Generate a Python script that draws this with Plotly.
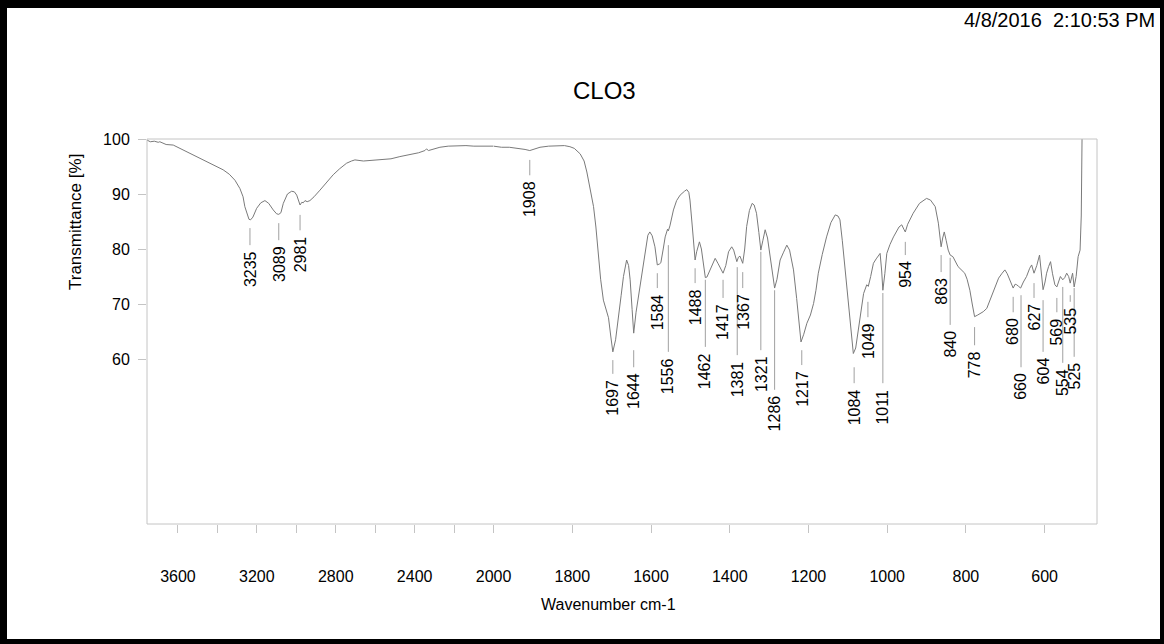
import plotly.graph_objects as go

# ---------------- data ----------------
wavenumber = [3757, 3740, 3720, 3700, 3692, 3660, 3624, 3580, 3539, 3500, 3455, 3410, 3371, 3340, 3311,
              3286, 3270, 3261, 3250, 3240, 3232, 3220, 3201, 3180, 3159, 3140, 3117, 3100, 3089, 3078,
              3066, 3045, 3024, 3010, 2998, 2988, 2981, 2972, 2965, 2956, 2945, 2931, 2910, 2880, 2850,
              2813, 2780, 2745, 2720, 2703, 2660, 2610, 2560, 2520, 2475, 2420, 2380, 2348, 2340, 2330,
              2300, 2272, 2230, 2187, 2140, 2100, 2060, 2019, 2000,
              1980, 1960, 1935, 1920, 1908, 1895, 1882, 1860, 1840, 1820, 1806, 1795, 1780, 1770, 1763,
              1755, 1746, 1740, 1734, 1728, 1721, 1714, 1708, 1702, 1697, 1690, 1683, 1676, 1670, 1662,
              1657, 1653, 1648, 1644, 1638, 1632, 1624, 1615, 1608, 1603, 1597, 1590, 1586, 1584, 1578,
              1575, 1569, 1564, 1558, 1556, 1552, 1543, 1535, 1526, 1515, 1509, 1504, 1501, 1495, 1490,
              1488, 1484, 1477, 1472, 1468, 1462, 1458, 1450, 1443, 1437, 1430, 1424, 1417, 1410, 1403,
              1395, 1390, 1382, 1378, 1374, 1367, 1362, 1357, 1350, 1343, 1338, 1332, 1326, 1321, 1316,
              1310, 1304, 1297, 1291, 1286, 1280, 1272, 1264, 1255, 1248, 1238, 1230, 1224, 1219, 1212,
              1204, 1195, 1187, 1181, 1175, 1165, 1154, 1143, 1132, 1125, 1120, 1114, 1107, 1100, 1094,
              1086, 1080, 1073, 1066, 1060, 1052, 1048, 1042, 1035, 1028, 1022, 1018, 1014, 1011, 1006,
              1001, 993, 984, 970, 963, 957, 954, 948, 934, 918, 900, 890, 878, 870, 865,
              863, 859, 855, 850, 845, 840, 833, 820, 803, 797, 790, 784, 778, 770, 762,
              756, 747, 738, 730, 717, 708, 701, 695, 688, 680, 675, 671, 666, 661, 654,
              646, 638, 633, 627, 620, 613, 608, 604, 599, 595, 590, 585, 580, 574, 569,
              564, 560, 554, 549, 544, 539, 535, 531, 529, 525, 520, 515, 510, 507, 505]

transmittance = [99.8, 99.5, 99.6, 99.4, 99.5, 99.0, 98.9, 98.1, 97.4, 96.7, 95.9, 95.1, 94.4, 93.6, 92.5,
                 91.0, 89.5, 87.7, 86.3, 85.4, 85.3, 85.8, 87.4, 88.4, 88.8, 88.3, 87.1, 86.4, 86.3, 86.6,
                 88.3, 90.0, 90.5, 90.4, 89.8, 88.6, 88.0, 88.5, 88.4, 88.8, 88.6, 88.8, 89.5, 90.7, 92.0,
                 93.5, 94.6, 95.6, 96.0, 96.2, 96.0, 96.1, 96.2, 96.4, 96.8, 97.2, 97.5, 97.9, 98.2, 97.9,
                 98.2, 98.5, 98.7, 98.8, 98.8, 98.7, 98.7, 98.8, 98.7,
                 98.5, 98.5, 98.3, 98.1, 97.9, 98.2, 98.5, 98.7, 98.8, 98.8, 98.6, 98.3, 97.3, 96.0, 94.0,
                 91.0, 87.7, 84.0, 79.2, 74.5, 70.7, 69.2, 67.5, 64.0, 61.3, 63.5, 67.1, 71.5, 75.0, 78.0,
                 77.0, 74.4, 69.0, 64.7, 68.5, 71.3, 75.5, 79.8, 82.5, 83.1, 82.4, 80.4, 77.6, 77.1, 77.3,
                 77.5, 80.0, 82.2, 83.6, 83.3, 84.2, 87.1, 88.8, 89.8, 90.5, 90.8, 90.3, 88.9, 84.0, 78.8,
                 78.0, 79.5, 81.3, 80.0, 78.0, 74.8, 74.9, 76.2, 77.6, 78.3, 77.4, 76.5, 75.6, 77.0, 79.5,
                 80.4, 79.8, 77.7, 78.5, 78.7, 77.4, 80.0, 84.1, 87.0, 88.3, 88.0, 86.5, 83.0, 79.8, 81.5,
                 83.5, 82.0, 78.6, 75.0, 72.9, 74.5, 78.0, 79.3, 80.7, 79.8, 76.2, 71.0, 66.0, 63.1, 64.5,
                 66.5, 68.0, 70.1, 72.5, 75.6, 79.0, 82.2, 84.8, 86.2, 86.0, 85.3, 81.5, 76.2, 70.5, 65.9,
                 61.0, 62.0, 65.3, 69.0, 71.9, 73.5, 73.2, 75.0, 77.4, 78.2, 78.9, 79.2, 76.0, 72.5, 75.5,
                 79.2, 80.8, 82.2, 84.0, 84.4, 83.5, 83.1, 84.5, 86.5, 88.3, 89.2, 88.9, 87.7, 84.7, 81.0,
                 80.4, 82.0, 83.1, 81.5, 79.8, 78.9, 78.6, 76.8, 75.6, 74.5, 72.5, 70.0, 67.7, 68.0, 68.3,
                 68.6, 69.2, 70.8, 72.5, 74.7, 75.6, 76.2, 75.5, 74.4, 72.9, 73.6, 73.5, 73.2, 72.9, 74.0,
                 75.0, 76.5, 77.1, 75.6, 77.0, 78.9, 76.0, 72.6, 74.0, 75.6, 76.8, 77.7, 75.5, 73.5, 73.1,
                 74.0, 75.0, 74.4, 74.8, 75.6, 75.0, 73.8, 75.0, 75.6, 73.1, 75.0, 78.6, 79.8, 86.0, 100.0]

peak_labels = [3235, 3089, 2981, 1908, 1697, 1644, 1584, 1556, 1488, 1462, 1417, 1381, 1367, 1321,
               1286, 1217, 1084, 1049, 1011, 954, 863, 840, 778, 680, 660, 627, 604, 569, 554, 535, 525]

x_ticks_left = [3600, 3400, 3200, 3000, 2800, 2600, 2400, 2200, 2000]
x_ticktext_left = ["3600", "", "3200", "", "2800", "", "2400", "", "2000"]
x_ticks_right = [1800, 1600, 1400, 1200, 1000, 800, 600]
y_ticks = [60, 70, 80, 90, 100]

title_text = "CLO3"
date_text = "4/8/2016  2:10:53 PM"
x_title = "Wavenumber cm-1"
y_title = "Transmittance [%]"

# marker line extents (transmittance units): top, bottom for each peak label
mark_top = [83.8, 84.7, 86.2, 96.2, 59.8, 61.6, 75.6, 80.7, 76.5, 74.4, 74.4, 76.7, 75.8, 79.5,
            72.5, 61.6, 58.5, 70.4, 72.0, 81.3, 78.9, 78.4, 65.8, 71.3, 71.6, 73.8, 70.7, 71.1, 73.1, 71.6, 72.9]
mark_bot = [80.7, 81.6, 83.4, 93.4, 57.3, 58.5, 72.9, 61.3, 73.8, 62.2, 71.1, 60.7, 72.9, 61.6,
            54.4, 58.9, 55.6, 67.6, 55.6, 78.9, 75.8, 66.2, 62.5, 68.5, 58.5, 71.1, 61.3, 68.5, 59.3, 70.4, 60.4]

# ---------------- layout geometry ----------------
W, H = 1164, 644
ML, MR, MT, MB = 147, 67, 139, 120
PW, PH = W - ML - MR, H - MT - MB
SPLIT = 2000
LEFT_RANGE = [3757, 2000]
RIGHT_RANGE = [2000, 467]
split_frac = 0.3648

FONT = "Liberation Sans, Arial, sans-serif"
LINE_GRAY = "#7a7a7a"
AXIS_GRAY = "#c4c4c4"
MARK_GRAY = "#a0a0a0"


def px_x(p):
    return (p - ML) / PW


def px_y(p):
    return (MT + PH - p) / PH


left_x = [w for w in wavenumber if w >= SPLIT]
left_y = [t for w, t in zip(wavenumber, transmittance) if w >= SPLIT]
right_x = [w for w in wavenumber if w <= SPLIT]
right_y = [t for w, t in zip(wavenumber, transmittance) if w <= SPLIT]

fig = go.Figure()
fig.add_trace(go.Scatter(x=left_x, y=left_y, mode="lines", xaxis="x", yaxis="y",
                         line=dict(color=LINE_GRAY, width=1), showlegend=False, hoverinfo="skip"))
fig.add_trace(go.Scatter(x=right_x, y=right_y, mode="lines", xaxis="x2", yaxis="y",
                         line=dict(color=LINE_GRAY, width=1), showlegend=False, hoverinfo="skip"))

shapes = []
annotations = []
for wn, top, bot in zip(peak_labels, mark_top, mark_bot):
    xr = "x" if wn > SPLIT else "x2"
    shapes.append(dict(type="line", xref=xr, yref="y", x0=wn, x1=wn, y0=top, y1=bot,
                       line=dict(color=MARK_GRAY, width=1)))
    annotations.append(dict(x=wn, y=bot, xref=xr, yref="y", text=str(wn), textangle=-90,
                            showarrow=False, xanchor="center", yanchor="top", yshift=-4,
                            font=dict(family=FONT, size=16, color="black")))

# plot frame
shapes.append(dict(type="rect", xref="paper", yref="paper", x0=0, x1=1, y0=0, y1=1,
                   line=dict(color=AXIS_GRAY, width=1), layer="above"))

# black page border
bt, bl, br, bb = 8, 7, 4, 5
for (x0, x1, y0, y1) in [(0, W, 0, bt), (0, bl, 0, H), (W - br, W, 0, H), (0, W, H - bb, H)]:
    shapes.append(dict(type="rect", xref="paper", yref="paper",
                       x0=px_x(x0), x1=px_x(x1), y0=px_y(y1), y1=px_y(y0),
                       fillcolor="black", line=dict(width=0), layer="above"))

annotations += [
    dict(x=px_x(604), y=px_y(90), xref="paper", yref="paper", text=title_text, showarrow=False,
         xanchor="center", yanchor="middle", font=dict(family=FONT, size=24, color="black")),
    dict(x=px_x(1157), y=px_y(20), xref="paper", yref="paper", text=date_text, showarrow=False,
         xanchor="right", yanchor="middle", font=dict(family=FONT, size=20, color="black")),
    dict(x=px_x(608), y=px_y(604), xref="paper", yref="paper", text=x_title, showarrow=False,
         xanchor="center", yanchor="middle", font=dict(family=FONT, size=16, color="black")),
    dict(x=px_x(75), y=px_y(222), xref="paper", yref="paper", text=y_title, showarrow=False,
         textangle=-90, xanchor="center", yanchor="middle",
         font=dict(family=FONT, size=17, color="black")),
]

tick_common = dict(ticks="outside", ticklen=8, tickwidth=1, tickcolor=AXIS_GRAY,
                   showgrid=False, zeroline=False, showline=False,
                   tickfont=dict(family=FONT, size=16, color="black"))

fig.update_layout(
    width=W, height=H,
    margin=dict(l=ML, r=MR, t=MT, b=MB, pad=0),
    paper_bgcolor="white", plot_bgcolor="white",
    xaxis=dict(domain=[0, split_frac], range=LEFT_RANGE, tickmode="array",
               tickvals=x_ticks_left, ticktext=x_ticktext_left, anchor="y",
               ticklabelstandoff=30, **tick_common),
    xaxis2=dict(domain=[split_frac, 1], range=RIGHT_RANGE, tickmode="array",
                tickvals=x_ticks_right, ticktext=[str(v) for v in x_ticks_right],
                anchor="y", ticklabelstandoff=30, **tick_common),
    yaxis=dict(range=[30, 100], tickmode="array", tickvals=y_ticks,
               ticktext=[str(v) for v in y_ticks], anchor="x",
               ticklabelstandoff=5, **tick_common),
    shapes=shapes,
    annotations=annotations,
)

fig.write_html("out.html", config={"displayModeBar": False},
               post_script="document.body.style.margin='0';document.body.style.overflow='hidden';")
